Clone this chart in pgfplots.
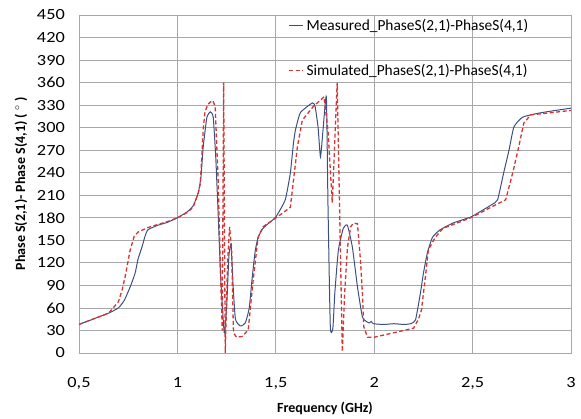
\documentclass[border=0pt]{standalone}
\usepackage{fontspec}
\setmainfont{Carlito}
\newfontfamily\tickfont{Carlito}[FakeStretch=1.18]
\newfontfamily\legfont{Carlito}
\usepackage{pgfplots}
\pgfplotsset{compat=1.18}
\definecolor{meas}{RGB}{59,80,128}
\definecolor{simu}{RGB}{212,52,52}
\definecolor{gridc}{RGB}{168,168,168}
\begin{document}
\begin{tikzpicture}
\begin{axis}[
  name=ax,
  scale only axis,
  width=492pt, height=338pt,
  xmin=0.5, xmax=3, ymin=0, ymax=450,
  xtick={0.5,1,1.5,2,2.5,3},
  xticklabels={0{,}5,1,1{,}5,2,2{,}5,3},
  ytick={0,30,...,450},
  grid=major,
  major grid style={color=gridc, line width=0.8pt},
  axis line style={color=gridc, line width=0.8pt},
  major tick length=0pt,
  /pgf/number format/assume math mode=true,
  xticklabel style={font=\tickfont\fontsize{15.5}{16}\selectfont, anchor=north, inner sep=0pt, yshift=-24pt},
  yticklabel style={font=\tickfont\fontsize{15.5}{16}\selectfont, anchor=east, inner sep=0pt, xshift=-14pt},
  xlabel={Frequency (GHz)},
  ylabel={Phase S(2,1)- Phase S(4,1) ( $^\circ$ )},
  xlabel style={font=\bfseries\fontsize{14}{15}\selectfont, at={(axis description cs:0.5,-0.163)}, anchor=center},
  ylabel style={font=\bfseries\fontsize{14}{15}\selectfont, at={(axis description cs:-0.118,0.5)}, anchor=center, rotate=0},
  legend cell align=left,
  legend style={at={(axis description cs:0.426,0.995)}, anchor=north west, draw=none, fill=none,
    font=\legfont\fontsize{15.4}{16.5}\selectfont, row sep=27pt, inner sep=0pt,
    nodes={inner sep=2.5pt}},
  legend image code/.code={\draw[#1] (0pt,0pt) -- (14pt,0pt);},
]
\addplot[meas, line width=1.0pt, smooth, tension=0.3] coordinates {
(0.50,38) (0.55,43) (0.60,48) (0.65,53) (0.70,60) (0.73,70) (0.76,88) (0.785,106)
(0.80,125) (0.82,141) (0.835,155) (0.85,164) (0.90,170) (0.95,174) (1.00,180)
(1.05,188) (1.08,196) (1.106,213) (1.12,235) (1.131,274) (1.15,314) (1.167,321)
(1.182,314) (1.195,260) (1.207,186) (1.22,100) (1.238,27) (1.25,60) (1.262,130)
(1.273,144) (1.283,90) (1.295,45) (1.32,36) (1.345,40) (1.365,60) (1.38,100)
(1.395,135) (1.41,154) (1.435,166) (1.46,172) (1.50,181) (1.548,204) (1.574,240)
(1.59,280) (1.60,297) (1.625,320) (1.686,333) (1.70,328) (1.715,300) (1.727,261)
(1.74,297) (1.757,341) (1.765,200) (1.777,35) (1.79,33) (1.80,80) (1.818,137)
(1.843,166) (1.864,170) (1.889,141) (1.915,88) (1.94,48) (1.96,42) (1.975,40)
(1.985,42) (1.995,39) (2.05,38) (2.10,39) (2.15,38) (2.185,39) (2.21,44)
(2.235,80) (2.25,106) (2.27,133) (2.296,154) (2.335,164) (2.40,173) (2.49,181)
(2.55,190) (2.60,198) (2.627,204) (2.658,240) (2.685,270) (2.71,301) (2.755,314)
(2.85,320) (3.00,326)
};
\addlegendentry{Measured\_PhaseS(2,1)-PhaseS(4,1)}
\addplot[simu, line width=1.3pt, dash pattern=on 4pt off 2.5pt] coordinates {
(0.50,38) (0.55,43) (0.60,48) (0.65,53) (0.70,68) (0.72,85) (0.734,101) (0.76,137)
(0.78,155) (0.80,161) (0.85,167) (0.90,171) (0.95,175) (1.00,180) (1.05,187)
(1.08,194) (1.106,213) (1.116,225) (1.126,270) (1.131,297) (1.14,321) (1.155,331)
(1.167,334) (1.18,336) (1.192,328) (1.207,230) (1.22,100) (1.228,30) (1.235,360)
(1.243,0) (1.255,120) (1.265,168) (1.275,140) (1.285,27) (1.30,21) (1.33,22)
(1.36,31) (1.385,97) (1.41,154) (1.435,168) (1.507,181) (1.574,194) (1.59,230)
(1.61,275) (1.635,310) (1.69,328) (1.745,341) (1.765,297) (1.787,200) (1.812,360)
(1.838,2) (1.85,80) (1.864,140) (1.88,168) (1.895,173) (1.915,172) (1.93,124)
(1.94,80) (1.947,35) (1.966,21) (2.0,21) (2.1,27) (2.2,33) (2.225,45) (2.24,57)
(2.26,101) (2.275,137) (2.31,154) (2.35,166) (2.49,180) (2.55,188) (2.60,195)
(2.668,204) (2.704,240) (2.734,274) (2.76,306) (2.795,317) (2.9,320) (3.0,323)
};
\addlegendentry{Simulated\_PhaseS(2,1)-PhaseS(4,1)}
\end{axis}
\path[use as bounding box] ([xshift=-79pt,yshift=-66pt]ax.south west) rectangle ([xshift=10pt,yshift=15pt]ax.north east);
\end{tikzpicture}
\end{document}
